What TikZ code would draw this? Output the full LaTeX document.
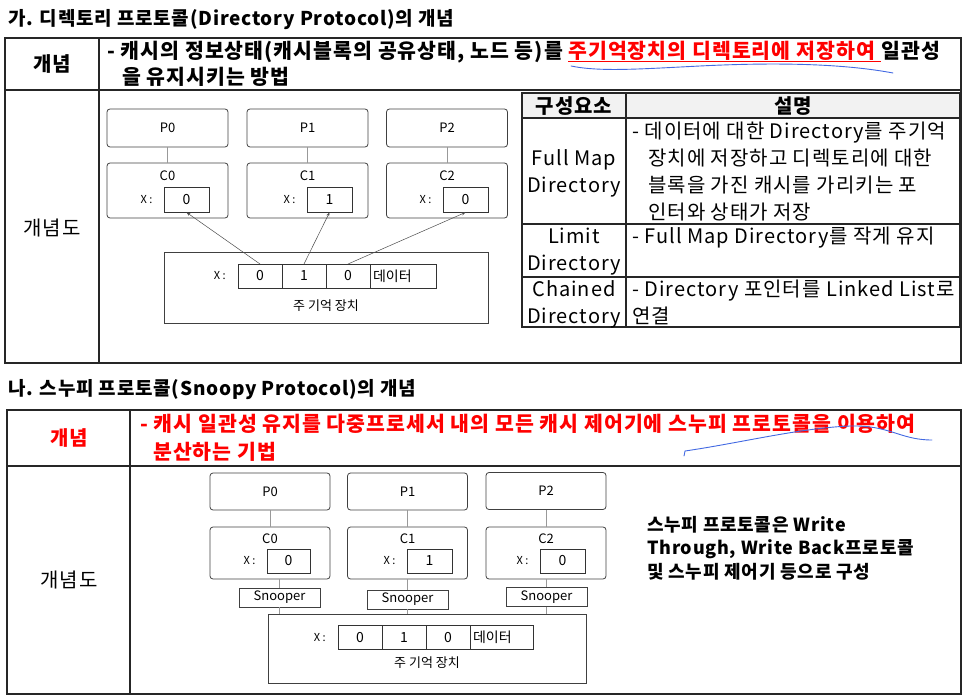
\documentclass[tikz,border=0pt]{standalone}
\usepackage{fontspec}
\setmainfont{Noto Sans CJK KR}
\newfontfamily\titlefont{Noto Sans CJK KR}[LetterSpace=4]
\newfontfamily\bodyfont{Noto Sans CJK KR}[LetterSpace=5]
\newfontfamily\notefont{Noto Sans CJK KR}[LetterSpace=4]
\usepackage{xcolor}
\usepackage{tikz}
\usetikzlibrary{arrows.meta,positioning}

\definecolor{penblue}{RGB}{66,105,226}
\definecolor{hdrgray}{RGB}{242,242,242}
\definecolor{redtxt}{RGB}{255,0,0}

\begin{document}
\begin{tikzpicture}[x=1pt, y=-1pt, >={Stealth[length=4pt,width=3pt]},
  tblframe/.style={line width=1.6pt, draw=black!85},
  tblrule/.style={line width=1.2pt, draw=black!85},
  heading/.style={anchor=base west, inner sep=0pt, font=\titlefont\fontsize{19}{23}\selectfont\bfseries},
  body/.style={anchor=base west, inner sep=0pt, font=\bodyfont\fontsize{20.5}{23}\selectfont\bfseries},
  hdr/.style={inner sep=0pt, font=\bodyfont\fontsize{20}{23}\selectfont\bfseries},
  plain/.style={inner sep=0pt, font=\bodyfont\fontsize{20}{23}\selectfont},
  desc/.style={anchor=north west, inner sep=0pt, align=left, font=\bodyfont\fontsize{20}{27}\selectfont},
  part/.style={inner sep=0pt, align=center, font=\bodyfont\fontsize{20}{27}\selectfont},
  note/.style={anchor=north west, inner sep=0pt, align=left, font=\notefont\fontsize{18}{23.5}\selectfont\bfseries},
  box/.style={draw=black!75, line width=0.8pt, rounded corners=3pt, minimum width=121pt},
  proc/.style={box, minimum height=38pt, font=\fontsize{13}{15}\selectfont},
  cache/.style={box, minimum height=55pt},
  val/.style={draw=black!80, line width=0.8pt, minimum width=45pt, minimum height=25pt, inner sep=0pt, font=\fontsize{14}{16}\selectfont},
  cell/.style={draw=black!80, line width=0.8pt, minimum width=44pt, minimum height=24pt, inner sep=0pt, outer sep=0pt, font=\fontsize{14}{16}\selectfont},
  snoop/.style={draw=black!75, line width=0.8pt, minimum width=81pt, minimum height=19pt, inner sep=0pt, font=\fontsize{13}{15}\selectfont},
  mem/.style={draw=black!75, line width=0.8pt, minimum width=324pt, minimum height=71pt},
  tag/.style={inner sep=0pt, font=\fontsize{13}{15}\selectfont},
  xl/.style={inner sep=0pt, font=\fontsize{11}{13}\selectfont},
  link/.style={draw=black!40, line width=0.8pt},
  ptr/.style={draw=black!70, line width=0.5pt, ->},
]
\useasboundingbox (0,0) rectangle (963,700);

% ---- 가. directory protocol
\node[heading] (t1) at (8,26) {가. 디렉토리 프로토콜(Directory Protocol)의 개념};
\draw[tblframe] (5,38) rectangle (961,363);
\draw[tblrule] (99,38) -- (99,363);
\draw[tblrule] (5,90) -- (961,90);

\node[hdr] (k1) at (52,64) {개념};
\node[body] (d1a) at (107,59) {- 캐시의 정보상태(캐시블록의 공유상태, 노드 등)를\kern5pt};
\node[body, text=redtxt] (d1b) at (d1a.base east) {주기억장치의 디렉토리에 저장하여\kern6pt};
\node[body] (d1c) at (d1b.base east) {일관성};
\node[body] (d1d) at (122,85) {을 유지시키는 방법};
\draw[redtxt, line width=1pt] ([yshift=-3pt]d1b.base west) -- ([yshift=-3pt]d1b.base east);
\draw[penblue, line width=0.9pt, line cap=round]
  (571,66) .. controls (600,72) and (640,69) .. (700,66)
  .. controls (780,62) and (845,64) .. (893,73);

\node[plain] (g1) at (52,228) {개념도};

% processors and caches
\node[proc] (p0) at (167.5,128) {P0};
\node[proc] (p1) at (307.5,128) {P1};
\node[proc] (p2) at (447,128) {P2};
\node[cache] (c0) at (167.5,190.5) {};
\node[cache] (c1) at (307.5,190.5) {};
\node[cache] (c2) at (447,190.5) {};
\node[tag, below=8pt of c0.north] {C0};
\node[tag, below=8pt of c1.north] {C1};
\node[tag, below=8pt of c2.north] {C2};
\node[val] (v0) at (186.5,199.5) {0};
\node[val] (v1) at (329.5,199.5) {1};
\node[val] (v2) at (465.5,199.5) {0};
\node[xl, left=11pt of v0] {X :};
\node[xl, left=11pt of v1] {X :};
\node[xl, left=11pt of v2] {X :};
\draw[link] (p0) -- (c0);
\draw[link] (p1) -- (c1);
\draw[link] (p2) -- (c2);

% main memory with directory
\node[mem] (mm1) at (326,287.5) {};
\node[cell] (m0) at (260,276) {0};
\node[cell, right=0pt of m0] (m1) {1};
\node[cell, right=0pt of m1] (m2) {0};
\node[cell, right=0pt of m2, text width=60pt, inner xsep=3pt, align=left] (m3) {데이터};
\node[xl, left=12pt of m0] {X :};
\node[tag] (mt1) at (326,306) {주 기억 장치};
\draw[ptr] (m0.north) -- (v0.south);
\draw[ptr] (m1.north) -- (v1.south);
\draw[ptr] (m2.north) -- (v2.south);

% component table
\fill[hdrgray] (522,93) rectangle (960,118);
\draw[tblrule] (522,93) rectangle (960,327);
\draw[tblrule] (626,93) -- (626,327);
\draw[tblrule] (522,118) -- (960,118);
\draw[tblrule] (522,224) -- (960,224);
\draw[tblrule] (522,277) -- (960,277);
\node[hdr] (h1) at (574,106) {구성요소};
\node[hdr] (h2) at (793,106) {설명};
\node[part] (r1) at (574,173) {Full Map\\Directory};
\node[part] (r2) at (574,252) {Limit\\Directory};
\node[part] (r3) at (574,304.5) {Chained\\Directory};
\node[desc] (e1) at (632,122) {- 데이터에 대한 Directory를 주기억\\
  \hspace*{16pt}장치에 저장하고 디렉토리에 대한\\
  \hspace*{16pt}블록을 가진 캐시를 가리키는 포\\
  \hspace*{16pt}인터와 상태가 저장};
\node[desc] (e2) at (632,227) {- Full Map Directory를 작게 유지};
\node[desc] (e3) at (632,280) {- Directory 포인터를 Linked List로\\연결};

% ---- 나. snoopy protocol
\node[heading] (t2) at (8,395) {나. 스누피 프로토콜(Snoopy Protocol)의 개념};
\draw[tblframe] (7,410) rectangle (961,694);
\draw[tblrule] (130,410) -- (130,694);
\draw[tblrule] (7,466) -- (961,466);

\node[hdr, text=redtxt] (k2) at (69,438) {개념};
\node[body, text=redtxt] (d2a) at (140,431) {- 캐시 일관성 유지를 다중프로세서 내의 모든 캐시 제어기에 스누피 프로토콜을 이용하여};
\node[body, text=redtxt] (d2b) at (153,459) {분산하는 기법};
\draw[penblue, line width=0.9pt, line cap=round]
  (684,456) -- (685,451) .. controls (740,443) and (800,428) .. (850,426)
  .. controls (890,425) and (900,440) .. (932,440);

\node[plain] (g2) at (69,580) {개념도};

% processors, caches and snoopers
\node[proc, minimum width=120pt, minimum height=37pt] (q0) at (270,491.5) {P0};
\node[proc, minimum width=120pt, minimum height=37pt] (q1) at (407.5,491.5) {P1};
\node[proc, minimum width=120pt, minimum height=37pt] (q2) at (546,491) {P2};
\node[cache, minimum width=120pt, minimum height=52pt] (k0) at (270,553) {};
\node[cache, minimum width=120pt, minimum height=52pt] (k1c) at (407.5,553) {};
\node[cache, minimum width=120pt, minimum height=52pt] (k2c) at (546,553) {};
\node[tag, below=7pt of k0.north] {C0};
\node[tag, below=7pt of k1c.north] {C1};
\node[tag, below=7pt of k2c.north] {C2};
\node[val, minimum width=43pt, minimum height=24pt] (w0) at (288.5,561) {0};
\node[val, minimum width=45pt, minimum height=24pt] (w1) at (429.5,561) {1};
\node[val, minimum width=45pt, minimum height=24pt] (w2) at (562.5,561) {0};
\node[xl, left=11pt of w0] {X :};
\node[xl, left=11pt of w1] {X :};
\node[xl, left=11pt of w2] {X :};
\node[snoop] (s0) at (279.5,597.5) {Snooper};
\node[snoop] (s1) at (407.5,599.5) {Snooper};
\node[snoop] (s2) at (546.5,597) {Snooper};
\draw[link] (q0) -- (k0);
\draw[link] (q1) -- (k1c);
\draw[link] (q2) -- (k2c);

% main memory
\node[mem, minimum width=318pt, minimum height=69pt] (mm2) at (427,648.5) {};
\draw[link] (s0.north |- k0.south) -- (s0.north);
\draw[link] (s1.north |- k1c.south) -- (s1.north);
\draw[link] (s2.north |- k2c.south) -- (s2.north);
\draw[link] (s0.south) -- (s0.south |- mm2.north);
\draw[link] (s1.south) -- (s1.south |- mm2.north);
\draw[link] (s2.south) -- (s2.south |- mm2.north);
\node[cell] (n0) at (360,637.5) {0};
\node[cell, right=0pt of n0] (n1) {1};
\node[cell, right=0pt of n1] (n2) {0};
\node[cell, right=0pt of n2, text width=57pt, inner xsep=3pt, align=left] (n3) {데이터};
\node[xl, left=12pt of n0] {X :};
\node[tag] (mt2) at (427,663) {주 기억 장치};

\node[note] (sn) at (647,516) {스누피 프로토콜은 Write\\Through, Write Back프로토콜\\및 스누피 제어기 등으로 구성};
\end{tikzpicture}
\end{document}
